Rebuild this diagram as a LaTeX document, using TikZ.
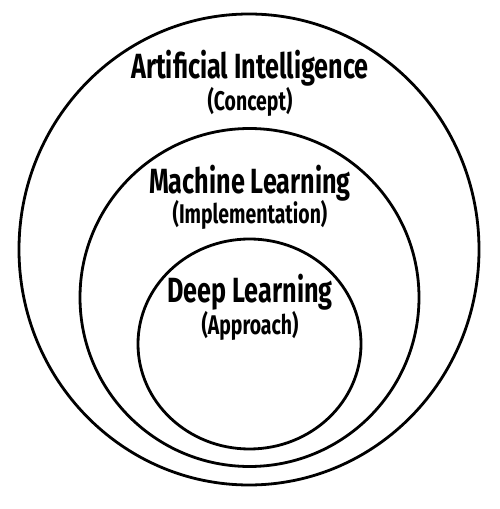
\documentclass[tikz,border=0pt]{standalone}
\usepackage{fontspec}
\setmainfont[FakeStretch=0.72]{Fira Sans}
\usepackage{tikz}

\begin{document}
\begin{tikzpicture}[x=1pt,y=1pt,line cap=round,line join=round,
    ring/.style={line width=2.8pt,color=black},
    title/.style={anchor=base,inner sep=0pt,font=\fontsize{35}{40}\selectfont\bfseries},
    subtitle/.style={anchor=base,inner sep=0pt,font=\fontsize{27}{30}\selectfont\bfseries}]
        \useasboundingbox (0,0) rectangle (500,509);
        \draw[ring] (249,259.5) ellipse (230 and 235.5);
        \draw[ring] (249.5,211.5) ellipse (169.5 and 169);
        \draw[ring] (249.5,165) ellipse (111.5 and 105);
        \node[title] (ai) at (250,430) {Artificial Intelligence};
        \node[subtitle] (aisub) at (250,398) {(Concept)};
        \node[title] (ml) at (250,315) {Machine Learning};
        \node[subtitle] (mlsub) at (250,285) {(Implementation)};
        \node[title] (dl) at (250,206) {Deep Learning};
        \node[subtitle] (dlsub) at (250,174) {(Approach)};
      \end{tikzpicture}
\end{document}
